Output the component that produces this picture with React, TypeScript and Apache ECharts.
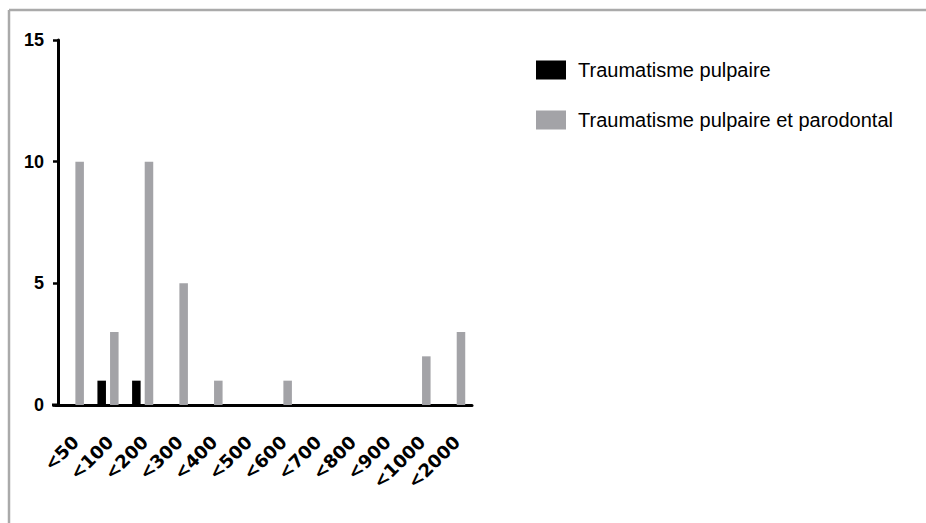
import React, { useEffect, useRef } from "react";
import * as echarts from "echarts";

const categories = ["<50", "<100", "<200", "<300", "<400", "<500", "<600", "<700", "<800", "<900", "<1000", "<2000"];
const pulpaire = [0, 1, 1, 0, 0, 0, 0, 0, 0, 0, 0, 0];
const pulpaireParodontal = [10, 3, 10, 5, 1, 0, 1, 0, 0, 0, 2, 3];
const seriesNames = ["Traumatisme pulpaire", "Traumatisme pulpaire et parodontal"];
const yTicks = { min: 0, max: 15, interval: 5 };

export default function App() {
  const ref = useRef<HTMLDivElement>(null);
  useEffect(() => {
    if (!ref.current) return;
    const chart = echarts.init(ref.current, undefined, { renderer: "svg" });
    chart.setOption({
      animation: false,
      backgroundColor: "#ffffff",
      grid: { left: 56, top: 40, width: 416, height: 365, containLabel: false },
      legend: {
        orient: "vertical",
        left: 531,
        top: 55,
        itemWidth: 30,
        itemHeight: 19,
        itemGap: 30,
        icon: "rect",
        selectedMode: false,
        data: seriesNames,
        textStyle: {
          fontFamily: "Liberation Sans, Arial, sans-serif",
          fontSize: 20,
          lineHeight: 19,
          color: "#000",
          padding: [0, 0, 0, 7],
        },
      },
      xAxis: {
        type: "category",
        data: categories,
        axisLine: { lineStyle: { color: "#000", width: 3 } },
        axisTick: { alignWithLabel: true, length: 8, lineStyle: { color: "#000", width: 2.5 } },
        axisLabel: {
          rotate: 45,
          interval: 0,
          margin: 36,
          padding: [0, -3, 0, 0],
          fontFamily: "DejaVu Sans, sans-serif",
          fontWeight: "bold",
          fontSize: 18,
          color: "#000",
        },
        splitLine: { show: false },
      },
      yAxis: {
        type: "value",
        min: yTicks.min,
        max: yTicks.max,
        interval: yTicks.interval,
        offset: -2,
        axisLine: { show: true, lineStyle: { color: "#000", width: 3 } },
        axisTick: { show: true, length: 5, lineStyle: { color: "#000", width: 2.5 } },
        axisLabel: {
          margin: 14,
          fontFamily: "Liberation Sans, Arial, sans-serif",
          fontWeight: "bold",
          fontSize: 18,
          color: "#000",
        },
        splitLine: { show: false },
      },
      series: [
        {
          name: seriesNames[0],
          type: "bar",
          data: pulpaire,
          itemStyle: { color: "#000000" },
          barGap: "48%",
          barCategoryGap: "39%",
        },
        {
          name: seriesNames[1],
          type: "bar",
          data: pulpaireParodontal,
          itemStyle: { color: "#a3a3a7" },
          barGap: "48%",
          barCategoryGap: "39%",
        },
      ],
      graphic: [
        { type: "line", shape: { x1: 9, y1: 10, x2: 926, y2: 10 }, style: { stroke: "#aaaaaa", lineWidth: 2.5 } },
        { type: "line", shape: { x1: 9, y1: 10, x2: 9, y2: 523 }, style: { stroke: "#aaaaaa", lineWidth: 2.5 } },
        { type: "line", shape: { x1: 52, y1: 405, x2: 58, y2: 405 }, style: { stroke: "#000", lineWidth: 3 } },
      ],
    });
    return () => chart.dispose();
  }, []);
  return <div ref={ref} style={{ position: "fixed", left: 0, top: 0, width: 926, height: 523 }} />;
}
